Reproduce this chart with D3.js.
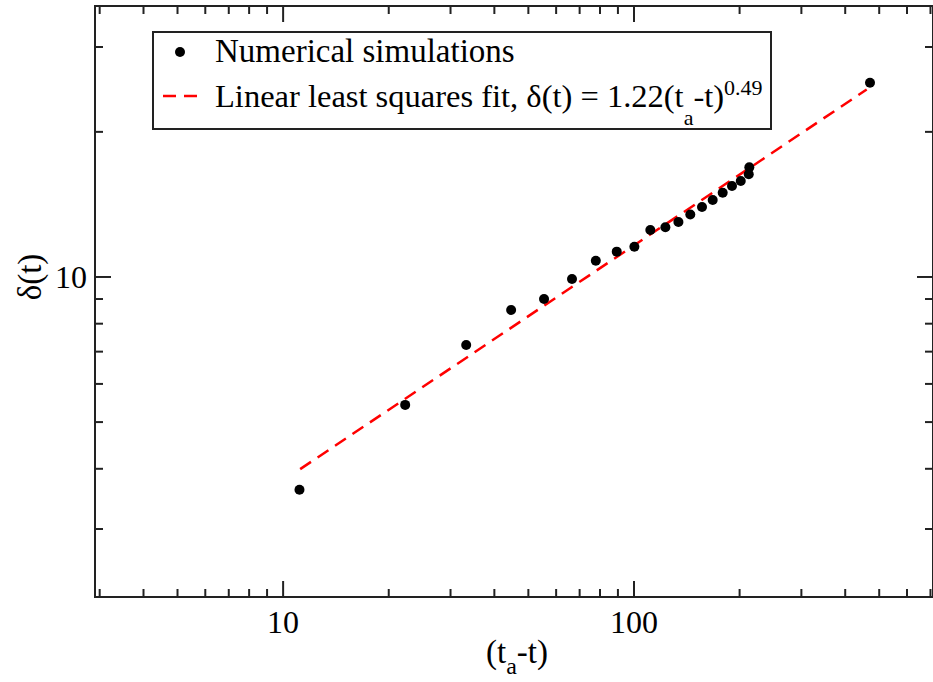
<!DOCTYPE html>
<html>
<head>
<meta charset="utf-8">
<script src="https://cdn.jsdelivr.net/npm/d3@7"></script>
<style>
  html, body { margin: 0; padding: 0; background: #fff; }
  svg { display: block; }
  text { font-family: "Liberation Serif", "Times New Roman", serif; fill: #000; }
</style>
</head>
<body>
<svg id="chart" width="933" height="682"></svg>
<script>
// ---- data ----
const simX = [11.17, 22.35, 33.36, 44.8, 55.6, 66.8, 78.1, 89.6, 100.6, 111.7, 123.3, 134.3, 145.2, 156.8, 168.2, 179.6, 190.9, 202.2, 213.1, 213.9, 472.2];
const simY = [3.61, 5.415, 7.21, 8.52, 8.98, 9.88, 10.78, 11.26, 11.53, 12.49, 12.65, 12.97, 13.45, 13.94, 14.41, 14.92, 15.40, 15.78, 16.29, 16.84, 25.22];
const fitX = [11.22, 462.0];
const fitY = [3.984, 24.43];
const xDomain = [2.919, 714];
const yDomain = [2.163, 36.4];
const xMajorTicks = [10, 100];
const xMinorTicks = [3, 4, 5, 6, 7, 8, 9, 20, 30, 40, 50, 60, 70, 80, 90, 200, 300, 400, 500, 600, 700];
const yMajorTicks = [10];
const yMinorTicks = [3, 4, 5, 6, 7, 8, 9, 20, 30];
const legendLabels = ["Numerical simulations", "Linear least squares fit, δ(t) = 1.22(t", "a", "-t)", "0.49"];

// ---- layout ----
const L = 95, R = 933, T = 6, B = 597;
const svg = d3.select("#chart");
const x = d3.scaleLog().domain(xDomain).range([L, R]);
const y = d3.scaleLog().domain(yDomain).range([B, T]);
const axisColor = "#222";
const FS = 33;

const g = svg.append("g");

// ticks (inward on all four sides)
function drawTicks(axisGen, transform, len, vals) {
  const a = g.append("g").attr("transform", transform)
    .call(axisGen.tickValues(vals).tickSizeInner(len).tickSizeOuter(0).tickFormat(""));
  a.select(".domain").remove();
  a.selectAll("line").attr("stroke", axisColor).attr("stroke-width", 2);
}
drawTicks(d3.axisTop(x), `translate(0,${B})`, 16, xMajorTicks);
drawTicks(d3.axisTop(x), `translate(0,${B})`, 8, xMinorTicks);
drawTicks(d3.axisBottom(x), `translate(0,${T})`, 16, xMajorTicks);
drawTicks(d3.axisBottom(x), `translate(0,${T})`, 8, xMinorTicks);
drawTicks(d3.axisRight(y), `translate(${L},0)`, 16, yMajorTicks);
drawTicks(d3.axisRight(y), `translate(${L},0)`, 8, yMinorTicks);
drawTicks(d3.axisLeft(y), `translate(${R},0)`, 16, yMajorTicks);
drawTicks(d3.axisLeft(y), `translate(${R},0)`, 8, yMinorTicks);

// frame
g.append("rect").attr("x", L).attr("y", T).attr("width", R - L).attr("height", B - T)
  .attr("fill", "none").attr("stroke", axisColor).attr("stroke-width", 2);

// tick labels
const xl = g.append("g").attr("transform", `translate(0,${B})`)
  .call(d3.axisBottom(x).tickValues(xMajorTicks).tickSize(0).tickPadding(0).tickFormat(d3.format("d")));
xl.select(".domain").remove();
xl.selectAll("text").attr("font-size", 32).attr("font-family", "Liberation Serif")
  .attr("dy", null).attr("y", 36);

const yl = g.append("g").attr("transform", `translate(${L},0)`)
  .call(d3.axisLeft(y).tickValues(yMajorTicks).tickSize(0).tickPadding(0).tickFormat(d3.format("d")));
yl.select(".domain").remove();
yl.selectAll("text").attr("font-size", 32).attr("font-family", "Liberation Serif")
  .attr("dy", null).attr("x", -8).attr("y", 11);

// fit line
const fitData = fitX.map((d, i) => [d, fitY[i]]);
g.append("path").datum(fitData)
  .attr("d", d3.line().x(d => x(d[0])).y(d => y(d[1])))
  .attr("fill", "none").attr("stroke", "#ff0000").attr("stroke-width", 2.5)
  .attr("stroke-dasharray", "13,8");

// points
const simData = simX.map((d, i) => [d, simY[i]]);
g.append("g").selectAll("circle").data(simData).join("circle")
  .attr("cx", d => x(d[0])).attr("cy", d => y(d[1])).attr("r", 5).attr("fill", "#000");

// axis labels
const xt = svg.append("text").attr("x", 517).attr("y", 663).attr("text-anchor", "middle").attr("font-size", FS);
xt.append("tspan").text("(t");
xt.append("tspan").attr("font-size", 24).attr("dy", 11).text("a");
xt.append("tspan").attr("dy", -11).text("-t)");

svg.append("text").attr("transform", "translate(41,277) rotate(-90)")
  .attr("text-anchor", "middle").attr("font-size", FS).text("δ(t)");

// legend
const lg = svg.append("g");
lg.append("rect").attr("x", 153).attr("y", 32).attr("width", 618).attr("height", 97)
  .attr("fill", "#fff").attr("stroke", axisColor).attr("stroke-width", 2);
lg.append("circle").attr("cx", 180).attr("cy", 52).attr("r", 5).attr("fill", "#000");
lg.append("line").attr("x1", 163).attr("x2", 197).attr("y1", 96).attr("y2", 96)
  .attr("stroke", "#ff0000").attr("stroke-width", 2.5).attr("stroke-dasharray", "13,8");
lg.append("text").attr("x", 215).attr("y", 62).attr("font-size", FS).text(legendLabels[0]);
const t2 = lg.append("text").attr("x", 215).attr("y", 107).attr("font-size", 32.5);
t2.append("tspan").text(legendLabels[1]);
t2.append("tspan").attr("font-size", 22).attr("dy", 18).text(legendLabels[2]);
t2.append("tspan").attr("dy", -18).text(legendLabels[3]);
t2.append("tspan").attr("font-size", 22).attr("dy", -12).text(legendLabels[4]);
</script>
</body>
</html>
